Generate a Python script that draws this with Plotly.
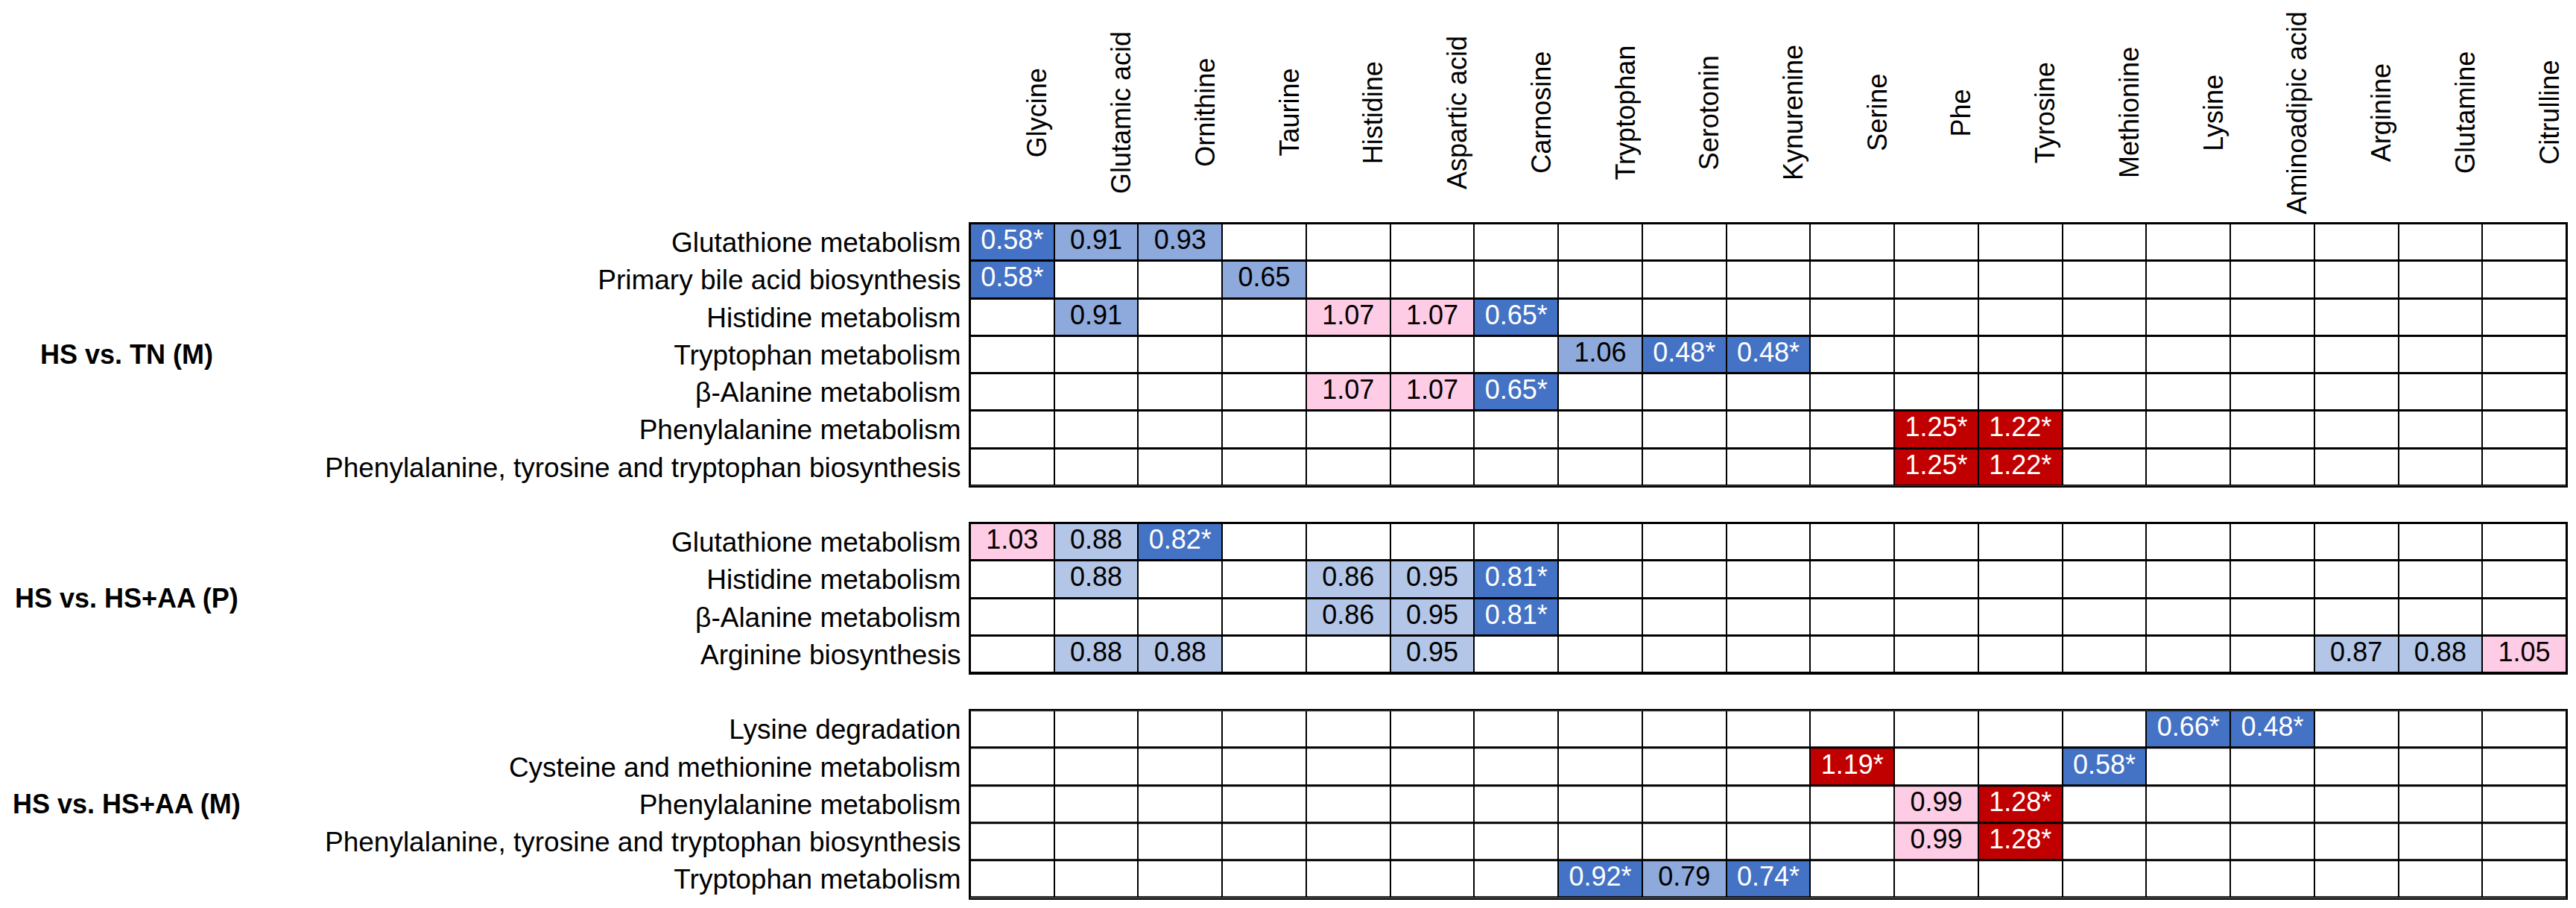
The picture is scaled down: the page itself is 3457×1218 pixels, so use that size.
import plotly.graph_objects as go
from plotly.subplots import make_subplots

# column headers (amino acids / metabolites)
amino_acids = ["Glycine", "Glutamic acid", "Ornithine", "Taurine", "Histidine",
               "Aspartic acid", "Carnosine", "Tryptophan", "Serotonin", "Kynurenine",
               "Serine", "Phe", "Tyrosine", "Methionine", "Lysine",
               "Aminoadipic acid", "Arginine", "Glutamine", "Citrulline"]

group_names = ["HS vs. TN (M)", "HS vs. HS+AA (P)", "HS vs. HS+AA (M)"]

# shade codes: L light blue, M medium blue, D dark blue, P pink, R red
tn_m_pathways = ["Glutathione metabolism", "Primary bile acid biosynthesis",
                 "Histidine metabolism", "Tryptophan metabolism",
                 "β-Alanine metabolism", "Phenylalanine metabolism",
                 "Phenylalanine, tyrosine and tryptophan biosynthesis"]
tn_m_cells = [
    [("Glycine", "0.58*", "D"), ("Glutamic acid", "0.91", "M"), ("Ornithine", "0.93", "M")],
    [("Glycine", "0.58*", "D"), ("Taurine", "0.65", "M")],
    [("Glutamic acid", "0.91", "M"), ("Histidine", "1.07", "P"), ("Aspartic acid", "1.07", "P"), ("Carnosine", "0.65*", "D")],
    [("Tryptophan", "1.06", "M"), ("Serotonin", "0.48*", "D"), ("Kynurenine", "0.48*", "D")],
    [("Histidine", "1.07", "P"), ("Aspartic acid", "1.07", "P"), ("Carnosine", "0.65*", "D")],
    [("Phe", "1.25*", "R"), ("Tyrosine", "1.22*", "R")],
    [("Phe", "1.25*", "R"), ("Tyrosine", "1.22*", "R")],
]

aa_p_pathways = ["Glutathione metabolism", "Histidine metabolism",
                 "β-Alanine metabolism", "Arginine biosynthesis"]
aa_p_cells = [
    [("Glycine", "1.03", "P"), ("Glutamic acid", "0.88", "L"), ("Ornithine", "0.82*", "D")],
    [("Glutamic acid", "0.88", "L"), ("Histidine", "0.86", "L"), ("Aspartic acid", "0.95", "L"), ("Carnosine", "0.81*", "D")],
    [("Histidine", "0.86", "L"), ("Aspartic acid", "0.95", "L"), ("Carnosine", "0.81*", "D")],
    [("Glutamic acid", "0.88", "L"), ("Ornithine", "0.88", "L"), ("Aspartic acid", "0.95", "L"),
     ("Arginine", "0.87", "L"), ("Glutamine", "0.88", "L"), ("Citrulline", "1.05", "P")],
]

aa_m_pathways = ["Lysine degradation", "Cysteine and methionine metabolism",
                 "Phenylalanine metabolism",
                 "Phenylalanine, tyrosine and tryptophan biosynthesis",
                 "Tryptophan metabolism"]
aa_m_cells = [
    [("Lysine", "0.66*", "D"), ("Aminoadipic acid", "0.48*", "D")],
    [("Serine", "1.19*", "R"), ("Methionine", "0.58*", "D")],
    [("Phe", "0.99", "P"), ("Tyrosine", "1.28*", "R")],
    [("Phe", "0.99", "P"), ("Tyrosine", "1.28*", "R")],
    [("Tryptophan", "0.92*", "D"), ("Serotonin", "0.79", "M"), ("Kynurenine", "0.74*", "D")],
]

shade_codes = ["", "L", "M", "D", "P", "R"]
shade_colors = ["#FFFFFF", "#B4C6E7", "#8EA9DB", "#4472C4", "#FFCCE5", "#C00000"]
dark_shades = ["D", "R"]

groups = [(tn_m_pathways, tn_m_cells), (aa_p_pathways, aa_p_cells), (aa_m_pathways, aa_m_cells)]

W, H = 3457, 1218
grid_left, grid_right = 1302, 3444
grid_top, row_h = 300, 50.25
header_mid = 151
FONT = "Arial, Liberation Sans, sans-serif"

colorscale = [[i / (len(shade_colors) - 1), c] for i, c in enumerate(shade_colors)]

fig = make_subplots(rows=3, cols=1)

top = grid_top
for g, (pathways, cells) in enumerate(groups):
    r = g + 1
    n = len(pathways)
    z = [[0] * len(amino_acids) for _ in range(n)]
    tx, ty, tt, tc = [], [], [], []
    for i, row in enumerate(cells):
        for aa, label, shade in row:
            j = amino_acids.index(aa)
            z[i][j] = shade_codes.index(shade)
            tx.append(j)
            ty.append(i)
            tt.append(label)
            tc.append("white" if shade in dark_shades else "black")

    fig.add_trace(go.Heatmap(
        z=z, x=list(range(len(amino_acids))), y=list(range(n)),
        colorscale=colorscale, zmin=0, zmax=len(shade_colors) - 1,
        showscale=False, xgap=2, ygap=3, hoverinfo="skip"), row=r, col=1)
    fig.add_trace(go.Scatter(
        x=tx, y=ty, text=tt, mode="text", textposition="middle center",
        textfont=dict(family=FONT, size=36, color=tc),
        hoverinfo="skip", showlegend=False), row=r, col=1)

    bottom = top + n * row_h
    dom = [(H - bottom) / H, (H - top) / H]
    sfx = "" if r == 1 else str(r)
    fig.layout["yaxis" + sfx].update(
        domain=dom, range=[n - 0.5, -0.5], tickvals=list(range(n)), ticktext=pathways,
        ticks="", ticklabelstandoff=3, showgrid=False, zeroline=False,
        showline=True, mirror=True, linecolor="black", linewidth=2,
        tickfont=dict(family=FONT, size=37, color="black"))
    fig.layout["xaxis" + sfx].update(
        domain=[grid_left / W, grid_right / W], range=[-0.5, len(amino_acids) - 0.5],
        showticklabels=False, ticks="", showgrid=False, zeroline=False,
        showline=True, mirror=True, linecolor="black", linewidth=2)

    fig.add_annotation(
        text="<b>" + group_names[g] + "</b>", xref="paper", yref="paper",
        x=170 / W, y=(dom[0] + dom[1]) / 2, xanchor="center", yanchor="middle",
        showarrow=False, font=dict(family=FONT, size=36, color="black"))
    top = bottom + row_h

# rotated column headers
for j, aa in enumerate(amino_acids):
    fig.add_annotation(
        text=aa, x=j, xref="x", yref="paper", y=(H - header_mid) / H,
        textangle=-90, xanchor="center", yanchor="middle", xshift=33,
        showarrow=False, font=dict(family=FONT, size=36, color="black"))

fig.update_layout(
    width=W, height=H, margin=dict(l=0, r=0, t=0, b=0),
    paper_bgcolor="white", plot_bgcolor="black", showlegend=False)

fig.write_html("out.html", config={"displayModeBar": False},
               post_script="document.body.style.margin='0';")
